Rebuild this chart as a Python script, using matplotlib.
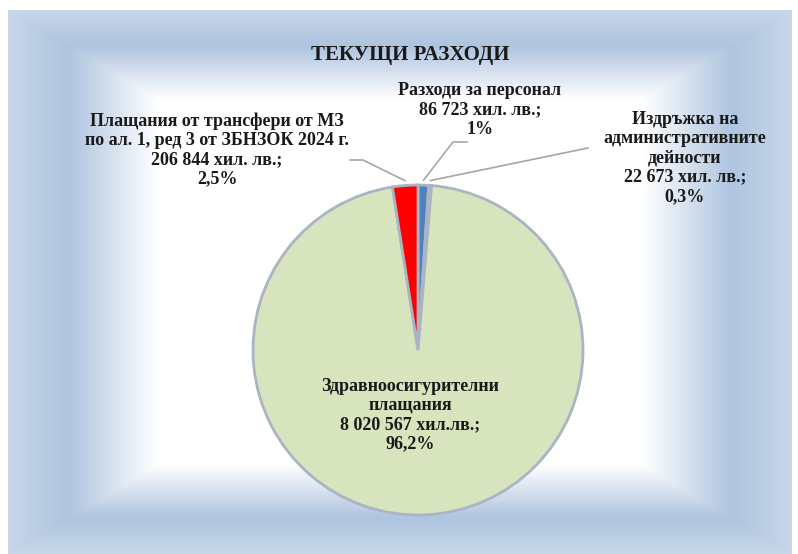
import numpy as np
import matplotlib.pyplot as plt
from matplotlib.colors import LinearSegmentedColormap
from matplotlib.lines import Line2D

title = 'ТЕКУЩИ РАЗХОДИ'
names = ['Разходи за персонал',
         'Издръжка на\nадминистративните\nдейности',
         'Здравноосигурителни\nплащания',
         'Плащания от трансфери от МЗ\nпо ал. 1, ред 3 от ЗБНЗОК 2024 г.']
values = [86723, 22673, 8020567, 206844]
value_text = ['86 723 хил. лв.;', '22 673 хил. лв.;', '8 020 567 хил.лв.;', '206 844 хил. лв.;']
percents = ['1%', '0,3%', '96,2%', '2,5%']
colors = ['#4f81bd', '#c6d9f1', '#d7e4bd', '#ff0000']

W, H = 798, 554
fig = plt.figure(figsize=(W / 100, H / 100), dpi=100)
fig.patch.set_facecolor('white')

# background panel with rectangular gradient (blue edges, white middle)
px0, py0, px1, py1 = 8, 10, 792, 554
bg = fig.add_axes([px0 / W, 1 - py1 / H, (px1 - px0) / W, (py1 - py0) / H])
bw, bh = px1 - px0, py1 - py0
xx, yy = np.meshgrid(np.arange(bw) + 0.5, np.arange(bh) + 0.5)
dx = np.minimum(xx, bw - xx) / 150.0
dy = np.minimum(yy, bh - yy) / 90.0
t = np.clip(np.minimum(dx, dy), 0, 1)
cmap = LinearSegmentedColormap.from_list('bg', [(0, '#c8d7ea'), (0.4, '#aec4df'), (1, '#ffffff')])
bg.imshow(t, cmap=cmap, vmin=0, vmax=1, aspect='auto', interpolation='bilinear')
bg.axis('off')

# pie
cx, cy, r = 418, 350, 165
ax = fig.add_axes([(cx - r) / W, 1 - (cy + r) / H, 2 * r / W, 2 * r / H])
wedges, _ = ax.pie(values, colors=colors, startangle=90, counterclock=False,
                   wedgeprops=dict(edgecolor='#aab4c2', linewidth=2))
ax.set_xlim(-1, 1)
ax.set_ylim(-1, 1)
ax.axis('off')

font = dict(family='Liberation Serif', weight='bold', color='#1a1a1a')

fig.text(410 / W, 1 - 55 / H, title, ha='center', va='center', fontsize=15, **font)

# label centers (pixel coords) and leader line elbows
label_pos = [(480, 110), (685, 158), (410, 415), (217, 150)]
elbows = [[(467, 142), (453, 142)], [(588, 148)], None, [(350, 160), (363, 160)]]

for i, w in enumerate(wedges):
    txt = f'{names[i]}\n{value_text[i]}\n{percents[i]}'
    lx, ly = label_pos[i]
    fig.text(lx / W, 1 - ly / H, txt, ha='center', va='center', fontsize=13,
             linespacing=1.17, **font)
    if elbows[i] is None:
        continue
    ang = np.deg2rad((w.theta1 + w.theta2) / 2)
    ex, ey = ax.transData.transform((1.03 * np.cos(ang), 1.03 * np.sin(ang)))
    pts = [(x / W, 1 - y / H) for x, y in elbows[i]] + [(ex / W, ey / H)]
    xs, ys = zip(*pts)
    fig.add_artist(Line2D(xs, ys, transform=fig.transFigure, color='#a6a6a6', lw=1.2))

fig.savefig('out.png', dpi=100)
